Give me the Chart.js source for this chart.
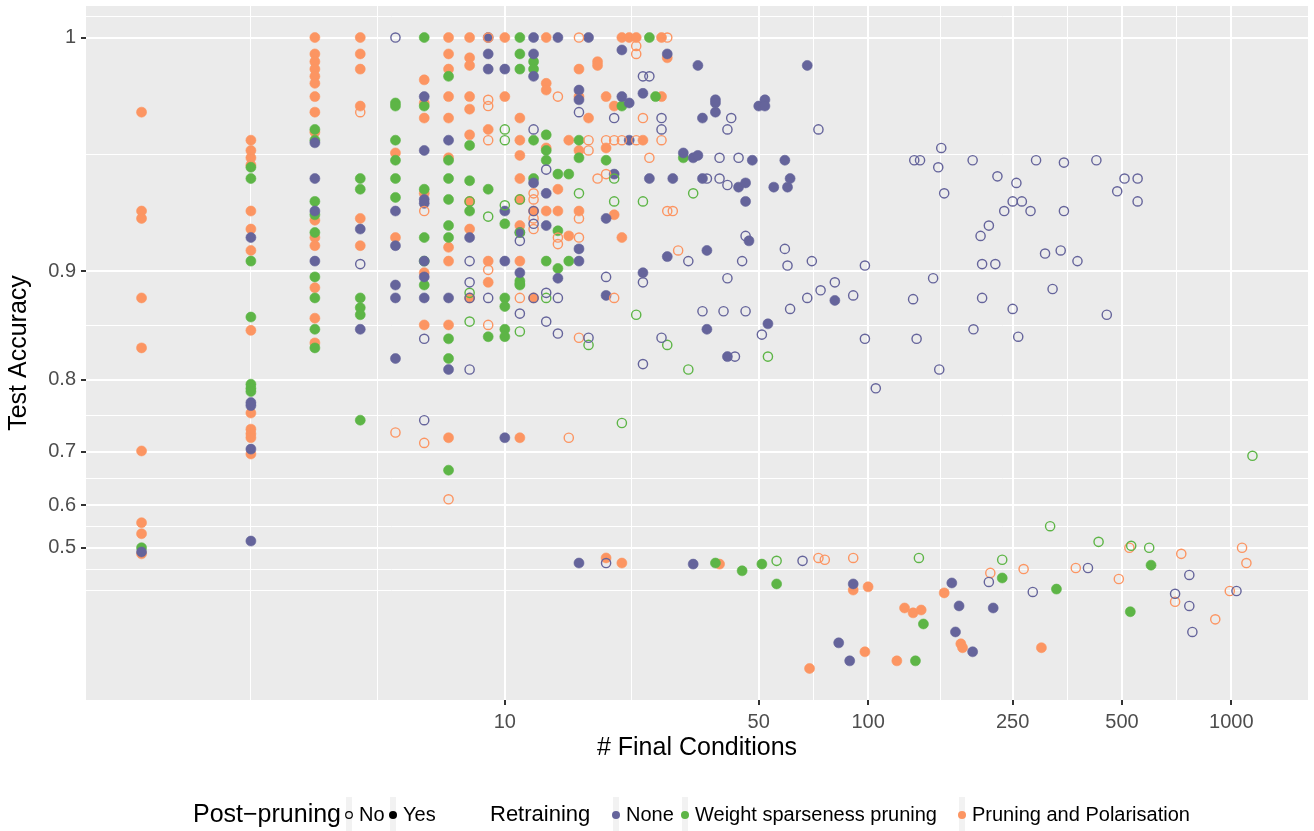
<!DOCTYPE html>
<html>
<head>
<meta charset="utf-8">
<script src="https://cdn.jsdelivr.net/npm/chart.js@4.4.1/dist/chart.umd.min.js"></script>
<style>
  html, body { margin: 0; padding: 0; background: #fff; }
  canvas { display: block; }
</style>
</head>
<body>
<canvas id="acc" width="1314" height="831"></canvas>
<script>
// [# final conditions, test accuracy] per retraining / post-pruning group
const noneYes = [
  [1,0.489],[2,0.922],[2,0.772],[2,0.768],[2,0.704],[2,0.517],
  [3,0.968],[3,0.953],[3,0.937],[3,0.907],[4,0.927],[4,0.853],
  [5,0.937],[5,0.917],[5,0.890],[5,0.880],[5,0.824],
  [6,0.984],[6,0.965],[6,0.943],[6,0.941],[6,0.907],[6,0.896],[6,0.880],
  [7,0.969],[7,0.880],[7,0.812],[8,0.922],[9,1.0],[9,0.996],[9,0.992],
  [10,0.992],[10,0.937],[10,0.907],[10,0.722],[11,0.899],[11,0.925],
  [12,1.0],[12,0.996],[12,0.990],[12,0.951],[13,0.946],[13,0.929],[14,1.0],[14,0.895],
  [16,0.986],[16,0.983],[16,0.915],[16,0.907],[16,0.459],[17,1.0],[19,0.933],[19,0.882],
  [20,0.955],[21,0.997],[21,0.984],[22,0.982],[22,0.969],[24,0.985],[24,0.899],[25,0.953],
  [28,0.996],[28,0.910],[29,0.953],[31,0.964],[33,0.962],[33,0.456],[34,0.963],[34,0.993],
  [35,0.977],[35,0.953],[36,0.914],[36,0.853],[38,0.983],[38,0.982],[38,0.979],[41,0.826],
  [44,0.949],[46,0.951],[46,0.942],[47,0.920],[48,0.961],[50,0.981],[52,0.983],[52,0.981],
  [53,0.858],[55,0.949],[59,0.961],[60,0.949],[61,0.953],[68,0.993],[81,0.878],
  [83,0.190],[89,0.114],[91,0.398],[170,0.401],[174,0.233],[178,0.327],[194,0.153],[221,0.320]
];
const noneNo = [
  [4,0.905],[5,1.0],[6,0.844],[6,0.748],[8,0.907],[8,0.892],[8,0.880],[8,0.812],[9,0.880],
  [11,0.920],[11,0.867],[12,0.973],[12,0.937],[12,0.930],[12,0.880],[13,0.957],[13,0.884],[13,0.860],
  [14,0.880],[14,0.849],[16,0.979],[17,0.845],[19,0.896],[19,0.459],[20,0.977],
  [24,0.990],[24,0.892],[24,0.818],[25,0.990],[27,0.977],[27,0.973],[27,0.845],[32,0.907],
  [35,0.869],[36,0.953],[39,0.962],[39,0.953],[40,0.869],[41,0.973],[41,0.950],[41,0.895],
  [42,0.977],[43,0.826],[44,0.962],[45,0.907],[46,0.923],[46,0.869],[51,0.848],[59,0.915],
  [60,0.904],[61,0.871],[66,0.465],[68,0.880],[70,0.907],[73,0.973],[74,0.886],
  [159,0.966],[134,0.961],[139,0.961],[156,0.958],[194,0.961],[162,0.946],[290,0.961],
  [346,0.960],[425,0.961],[227,0.954],[256,0.951],[508,0.953],[552,0.953],[485,0.947],
  [552,0.942],[250,0.942],[265,0.942],[237,0.937],[280,0.937],[346,0.937],[215,0.929],
  [204,0.923],[307,0.912],[339,0.914],[377,0.907],[206,0.905],[224,0.905],[98,0.904],
  [81,0.892],[91,0.882],[151,0.895],[133,0.879],[206,0.880],[250,0.871],[322,0.887],
  [454,0.866],[195,0.853],[259,0.846],[98,0.844],[136,0.844],[157,0.812],[105,0.790],
  [215,0.404],[284,0.373],[403,0.445],[700,0.367],[766,0.425],[766,0.327],[781,0.233],[1033,0.376]
];
const weightYes = [
  [1,0.500],[2,0.958],[2,0.953],[2,0.907],[2,0.864],[2,0.795],[2,0.790],[2,0.786],
  [3,0.973],[3,0.969],[3,0.942],[3,0.935],[3,0.925],[3,0.896],[3,0.880],[3,0.853],[3,0.835],
  [4,0.953],[4,0.948],[4,0.880],[4,0.872],[4,0.866],[4,0.748],
  [5,0.982],[5,0.981],[5,0.969],[5,0.961],[5,0.953],[5,0.944],
  [6,1.0],[6,0.981],[6,0.948],[6,0.922],[6,0.907],[6,0.890],
  [7,0.990],[7,0.961],[7,0.953],[7,0.943],[7,0.929],[7,0.922],[7,0.844],[7,0.824],[7,0.668],
  [8,0.967],[8,0.952],[8,0.937],[9,0.948],[9,0.846],
  [10,0.930],[10,0.880],[10,0.873],[10,0.853],[10,0.846],
  [11,1.0],[11,0.996],[11,0.992],[11,0.893],[11,0.890],[12,0.994],[12,0.992],[12,0.969],[12,0.953],
  [13,0.971],[13,0.965],[13,0.961],[13,0.907],[14,0.955],[14,0.926],[14,0.902],[15,0.955],[15,0.907],
  [16,0.969],[16,0.962],[19,0.961],[21,0.981],[25,1.0],[26,0.984],[31,0.962],
  [38,0.459],[45,0.437],[51,0.456],[56,0.398],[135,0.114],[142,0.263],[234,0.416],[330,0.382],
  [527,0.307],[601,0.453]
];
const weightNo = [
  [8,0.942],[8,0.884],[8,0.860],[9,0.934],[10,0.973],[10,0.969],[10,0.940],
  [11,0.943],[11,0.925],[11,0.891],[11,0.851],[13,0.880],[16,0.946],[17,0.838],[20,0.953],[20,0.942],
  [21,0.744],[23,0.866],[24,0.942],[28,0.838],[32,0.812],[33,0.946],[53,0.826],
  [56,0.465],[138,0.473],[234,0.468],[317,0.553],[431,0.515],[530,0.505],[594,0.500],[1143,0.693]
];
const polarYes = [
  [1,0.979],[1,0.937],[1,0.933],[1,0.880],[1,0.835],[1,0.701],[1,0.561],[1,0.535],[1,0.484],
  [2,0.969],[2,0.965],[2,0.962],[2,0.959],[2,0.937],[2,0.927],[2,0.914],[2,0.852],[2,0.758],
  [2,0.735],[2,0.728],[2,0.722],[2,0.696],
  [3,1.0],[3,0.996],[3,0.994],[3,0.992],[3,0.990],[3,0.988],[3,0.984],[3,0.979],[3,0.972],
  [3,0.932],[3,0.922],[3,0.917],[3,0.888],[3,0.863],[3,0.840],
  [4,1.0],[4,0.996],[4,0.992],[4,0.981],[4,0.933],[4,0.917],[5,0.964],[5,0.922],
  [6,0.989],[6,0.982],[6,0.977],[6,0.946],[6,0.899],[6,0.857],
  [7,1.0],[7,0.996],[7,0.992],[7,0.984],[7,0.977],[7,0.962],[7,0.916],[7,0.907],[7,0.857],[7,0.722],
  [8,1.0],[8,0.995],[8,0.993],[8,0.984],[8,0.980],[8,0.971],[8,0.942],[8,0.927],[8,0.880],
  [9,0.973],[9,0.907],[9,0.892],[10,1.0],[10,0.984],
  [11,0.977],[11,0.969],[11,0.963],[11,0.953],[11,0.943],[11,0.929],[11,0.907],[11,0.722],
  [12,0.937],[12,0.880],[13,1.0],[13,0.988],[13,0.986],[13,0.966],[13,0.937],[14,0.948],[14,0.937],
  [15,0.969],[15,0.923],[16,0.992],[16,0.984],[16,0.965],[16,0.937],[17,0.977],[18,0.994],[18,0.993],
  [19,0.984],[19,0.966],[19,0.473],[20,0.981],[20,0.935],[21,1.0],[21,0.922],[21,0.459],
  [22,1.0],[23,1.0],[24,0.969],[27,1.0],[27,0.984],[28,0.995],[39,0.456],
  [69,0.080],[91,0.379],[98,0.153],[100,0.389],[120,0.114],[126,0.320],[133,0.303],[140,0.313],
  [162,0.370],[180,0.186],[182,0.170],[300,0.170]
];
const polarNo = [
  [4,0.979],[5,0.730],[6,0.937],[6,0.714],[7,0.612],
  [9,1.0],[9,0.983],[9,0.981],[9,0.969],[9,0.901],[9,0.857],[11,0.880],
  [12,0.946],[12,0.943],[12,0.933],[12,0.927],[14,0.984],[14,0.922],[14,0.918],[15,0.722],
  [16,1.0],[16,0.933],[16,0.922],[16,0.845],[17,0.969],[17,0.965],[18,0.953],[19,0.969],[19,0.955],
  [20,0.969],[20,0.880],[21,0.969],[23,0.998],[23,0.996],[23,0.969],[24,0.977],[25,0.962],
  [27,0.969],[28,1.0],[28,0.937],[29,0.937],[30,0.914],
  [73,0.473],[76,0.468],[91,0.473],[217,0.431],[268,0.442],[373,0.445],[490,0.413],[524,0.500],
  [700,0.341],[728,0.484],[903,0.280],[990,0.376],[1070,0.500],[1100,0.459]
];

const xBreaks = [10, 50, 100, 250, 500, 1000];
const yBreaks = [0.5, 0.6, 0.7, 0.8, 0.9, 1];

const colours = { none: '#65649B', weight: '#5DB546', polar: '#FC9562' };
const family = "'Liberation Sans', Arial, Helvetica, sans-serif";

// accuracy axis is stretched towards 1
const shift = 1.05;
const fwd = a => -Math.log(shift - a);

const all = [].concat(noneYes, noneNo, weightYes, weightNo, polarYes, polarNo);
const lx = all.map(p => Math.log10(p[0]));
const ty = all.map(p => fwd(p[1]));
function expand(v) {
  const lo = Math.min(...v), hi = Math.max(...v), pad = (hi - lo) * 0.05;
  return [lo - pad, hi + pad];
}
const [lxMin, lxMax] = expand(lx);
const [tyMin, tyMax] = expand(ty);

// ggplot style minor breaks (midpoints, one step past each end)
function minorBreaks(majors, lo, hi) {
  const b = majors.slice();
  const d = b[1] - b[0];
  if (lo < b[0]) b.unshift(b[0] - d);
  if (hi > b[b.length - 1]) b.push(b[b.length - 1] + d);
  const out = [];
  for (let i = 0; i < b.length - 1; i++) out.push(b[i], (b[i] + b[i + 1]) / 2);
  out.push(b[b.length - 1]);
  return out.filter(v => v >= lo && v <= hi && !majors.some(m => Math.abs(m - v) < 1e-9));
}

const xMajorL = xBreaks.map(Math.log10);
const xTicks = xBreaks.map(v => ({ value: v, lab: String(v) }))
  .concat(minorBreaks(xMajorL, lxMin, lxMax).map(v => ({ value: Math.pow(10, v), lab: '' })))
  .sort((a, b) => a.value - b.value);

const yMajorT = yBreaks.map(fwd);
const yTicks = yBreaks.map(v => ({ value: fwd(v), lab: String(v) }))
  .concat(minorBreaks(yMajorT, tyMin, tyMax).map(v => ({ value: v, lab: '' })))
  .sort((a, b) => a.value - b.value);

const pts = list => list.map(([x, a]) => ({ x: x, y: fwd(a) }));
function hollow(label, list, c) {
  return { label, data: pts(list), pointRadius: 4.6, pointBorderWidth: 1.4,
    pointBackgroundColor: 'rgba(0,0,0,0)', pointBorderColor: c, backgroundColor: 'rgba(0,0,0,0)', borderColor: c };
}
function filled(label, list, c) {
  return { label, data: pts(list), pointRadius: 5, pointBorderWidth: 0.6,
    pointBackgroundColor: c, pointBorderColor: c, backgroundColor: c, borderColor: c };
}

const gridWidth = ctx => (ctx.tick && ctx.tick.lab ? 2 : 1);
const tickColour = ctx => (ctx.tick && ctx.tick.lab ? '#333333' : 'rgba(0,0,0,0)');

const decor = {
  id: 'decor',
  beforeDraw(chart) {
    const { ctx, chartArea: a } = chart;
    ctx.save();
    ctx.fillStyle = '#ffffff';
    ctx.fillRect(0, 0, chart.width, chart.height);
    ctx.fillStyle = '#EBEBEB';
    ctx.fillRect(a.left, a.top, a.right - a.left, a.bottom - a.top);
    ctx.restore();
  },
  afterDraw(chart) {
    const { ctx, chartArea: a } = chart;
    ctx.save();
    ctx.fillStyle = '#000';
    ctx.textBaseline = 'middle';
    ctx.font = '25px ' + family;
    ctx.textAlign = 'center';
    ctx.fillText('# Final Conditions', (a.left + a.right) / 2, 748);
    ctx.save();
    ctx.translate(19, (a.top + a.bottom) / 2);
    ctx.rotate(-Math.PI / 2);
    ctx.fillText('Test Accuracy', 0, 0);
    ctx.restore();

    // legend
    const ly = 815;
    ctx.textAlign = 'left';
    ctx.fillText('Post\u2212pruning', 193, ly);
    ctx.font = '22px ' + family;
    ctx.fillText('Retraining', 490, ly);
    const keys = [
      { x: 349, fill: null, stroke: '#000', text: 'No' },
      { x: 393, fill: '#000', stroke: '#000', text: 'Yes' },
      { x: 616, fill: colours.none, stroke: colours.none, text: 'None' },
      { x: 685, fill: colours.weight, stroke: colours.weight, text: 'Weight sparseness pruning' },
      { x: 962, fill: colours.polar, stroke: colours.polar, text: 'Pruning and Polarisation' }
    ];
    ctx.font = '20px ' + family;
    keys.forEach(k => {
      ctx.fillStyle = '#F2F2F2';
      ctx.fillRect(k.x - 3, 797, 6, 34);
      ctx.beginPath();
      ctx.arc(k.x, ly, k.fill ? 4 : 3.3, 0, Math.PI * 2);
      if (k.fill) { ctx.fillStyle = k.fill; ctx.fill(); }
      else { ctx.lineWidth = 1.2; ctx.strokeStyle = k.stroke; ctx.stroke(); }
      ctx.fillStyle = '#000';
      ctx.fillText(k.text, k.x + 10, ly);
    });
    ctx.restore();
  }
};

new Chart(document.getElementById('acc'), {
  type: 'scatter',
  data: {
    datasets: [
      hollow('None / No', noneNo, colours.none),
      hollow('Weight sparseness pruning / No', weightNo, colours.weight),
      hollow('Pruning and Polarisation / No', polarNo, colours.polar),
      filled('None / Yes', noneYes, colours.none),
      filled('Weight sparseness pruning / Yes', weightYes, colours.weight),
      filled('Pruning and Polarisation / Yes', polarYes, colours.polar)
    ]
  },
  options: {
    responsive: false,
    animation: false,
    devicePixelRatio: 1,
    events: [],
    layout: { padding: { left: 0, right: 6, top: 5, bottom: 0 } },
    plugins: { legend: { display: false }, tooltip: { enabled: false } },
    scales: {
      x: {
        type: 'logarithmic',
        bounds: 'data',
        min: Math.pow(10, lxMin),
        max: Math.pow(10, lxMax),
        afterBuildTicks: s => { s.ticks = xTicks.map(t => ({ value: t.value, lab: t.lab })); },
        afterFit: s => { s.height = 131; s.paddingLeft = 0; s.paddingRight = 0; },
        ticks: {
          autoSkip: false, maxRotation: 0, padding: 5, color: '#4D4D4D',
          font: { size: 20, family: family },
          callback: (v, i, ticks) => ticks[i].lab
        },
        grid: { color: '#ffffff', lineWidth: gridWidth, drawTicks: true, tickLength: 5, tickWidth: 2, tickColor: tickColour },
        border: { display: false },
        title: { display: false }
      },
      y: {
        type: 'linear',
        bounds: 'data',
        min: tyMin,
        max: tyMax,
        afterBuildTicks: s => { s.ticks = yTicks.map(t => ({ value: t.value, lab: t.lab })); },
        afterFit: s => { s.width = 86; s.paddingTop = 0; s.paddingBottom = 0; },
        ticks: {
          autoSkip: false, padding: 5, color: '#4D4D4D',
          font: { size: 20, family: family },
          callback: (v, i, ticks) => ticks[i].lab
        },
        grid: { color: '#ffffff', lineWidth: gridWidth, drawTicks: true, tickLength: 5, tickWidth: 2, tickColor: tickColour },
        border: { display: false },
        title: { display: false }
      }
    }
  },
  plugins: [decor]
});
</script>
</body>
</html>
